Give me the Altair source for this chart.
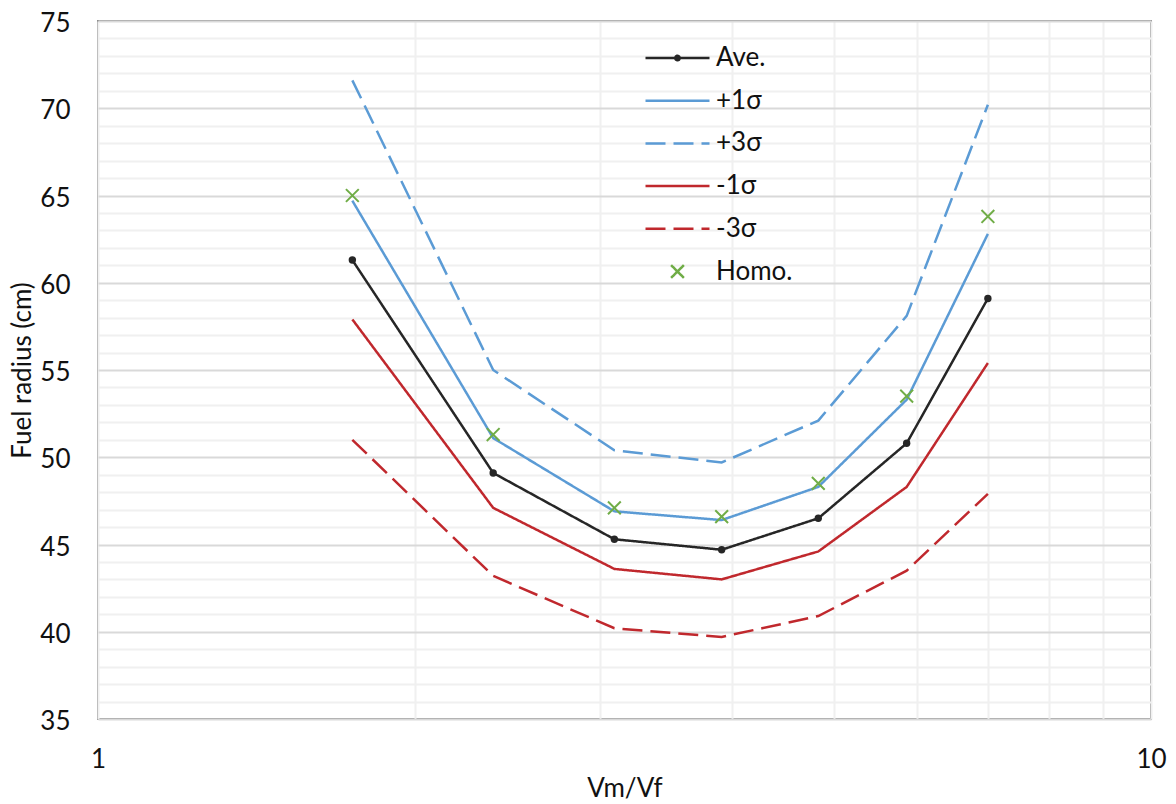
import altair as alt
import pandas as pd

# ---- data ----
vm_vf = [1.744, 2.373, 3.093, 3.911, 4.831, 5.861, 7.0]
ave = [61.3, 49.1, 45.3, 44.7, 46.5, 50.8, 59.1]
plus1 = [64.7, 51.1, 46.9, 46.4, 48.3, 53.3, 62.8]
plus3 = [71.6, 55.0, 50.4, 49.7, 52.1, 58.1, 70.2]
minus1 = [57.9, 47.1, 43.6, 43.0, 44.6, 48.3, 55.4]
minus3 = [51.0, 43.2, 40.2, 39.7, 40.9, 43.5, 47.9]
homo = [65.0, 51.3, 47.1, 46.6, 48.5, 53.5, 63.8]

series_names = ["Ave.", "+1σ", "+3σ", "-1σ", "-3σ", "Homo."]
series_colors = ["#262626", "#5B9BD5", "#5B9BD5", "#C0282D", "#C0282D", "#70AD47"]
series_dashes = [[1, 0], [1, 0], [20, 8], [1, 0], [20, 8], [1, 0]]
line_names = ["Ave.", "+1σ", "+3σ", "-1σ", "-3σ"]

# legend / marker symbol paths (unit square scaled by symbol size)
AVE_SYM = ("M-1,0H1"
           "M-0.07,0A0.07,0.07,0,1,1,0.07,0A0.07,0.07,0,1,1,-0.07,0Z"
           "M-0.03,0A0.03,0.03,0,1,1,0.03,0A0.03,0.03,0,1,1,-0.03,0Z")
HOMO_SYM = "M-0.2,-0.2L0.2,0.2M-0.2,0.2L0.2,-0.2"
series_shapes = [AVE_SYM, "stroke", "stroke", "stroke", "stroke", HOMO_SYM]

x_ticks = [1, 2, 3, 4, 5, 6, 7, 8, 9, 10]
y_ticks = list(range(35, 76))

series_values = [ave, plus1, plus3, minus1, minus3, homo]
rows = []
for name, vals in zip(series_names, series_values):
    for xv, yv in zip(vm_vf, vals):
        rows.append({"x": xv, "y": yv, "series": name})
df = pd.DataFrame(rows)

FONT = "Lato"
FS = 26

color_scale = alt.Scale(domain=series_names, range=series_colors)
dash_scale = alt.Scale(domain=series_names, range=series_dashes)
shape_scale = alt.Scale(domain=series_names, range=series_shapes)


def make_legend():
    return alt.Legend(
        title=None,
        orient="none",
        legendX=546,
        legendY=16,
        padding=0,
        symbolSize=4096,
        symbolStrokeWidth=2.5,
        symbolOpacity=1,
        labelFont=FONT,
        labelFontSize=FS,
        labelColor="#111111",
        labelOffset=5,
        clipHeight=42,
        rowPadding=0.7,
    )


x_enc = alt.X(
    "x:Q",
    scale=alt.Scale(type="log", domain=[1, 10], nice=False),
    axis=alt.Axis(
        title="Vm/Vf",
        values=x_ticks,
        labelExpr="(datum.value == 1 || datum.value == 10) ? datum.label : ''",
        format="~g",
        grid=True,
        gridColor="#f0f0f0",
        gridWidth=2,
        labelPadding=27,
        labelFlush=False,
        titlePadding=3,
        labelOverlap=False,
    ),
)
y_enc = alt.Y(
    "y:Q",
    scale=alt.Scale(domain=[35, 75], nice=False, zero=False),
    axis=alt.Axis(
        title="Fuel radius (cm)",
        values=y_ticks,
        labelExpr="datum.value % 5 == 0 ? datum.label : ''",
        grid=True,
        gridColor={
            "condition": {"test": "datum.value % 5 == 0", "value": "#d9d9d9"},
            "value": "#f0f0f0",
        },
        gridWidth=2,
        labelPadding=28,
        labelOffset=2.5,
        labelFlush=False,
        titlePadding=4,
        labelOverlap=False,
    ),
)

lines = (
    alt.Chart(df[df.series.isin(line_names)])
    .mark_line(strokeWidth=2.5)
    .encode(
        x=x_enc,
        y=y_enc,
        color=alt.Color("series:N", scale=color_scale, legend=make_legend()),
        strokeDash=alt.StrokeDash("series:N", scale=dash_scale, legend=make_legend()),
        detail="series:N",
    )
)

ave_pts = (
    alt.Chart(df[df.series == "Ave."])
    .mark_point(filled=True, shape="circle", size=55, opacity=1)
    .encode(x=x_enc, y=y_enc,
            color=alt.Color("series:N", scale=color_scale, legend=make_legend()))
)

homo_pts = (
    alt.Chart(df[df.series == "Homo."])
    .mark_point(size=4096, filled=False, strokeWidth=2, opacity=1)
    .encode(
        x=x_enc,
        y=y_enc,
        color=alt.Color("series:N", scale=color_scale, legend=make_legend()),
        shape=alt.Shape("series:N", scale=shape_scale, legend=make_legend()),
    )
)

chart = (
    alt.layer(lines, ave_pts, homo_pts)
    .properties(
        width=1053,
        height=698,
        autosize=alt.AutoSizeParams(type="none"),
        padding={"left": 98, "top": 21, "right": 25, "bottom": 85},
        background="white",
    )
    .configure_view(stroke="#8c8c8c", strokeWidth=2)
    .configure_axis(
        domain=False,
        ticks=False,
        labelFont=FONT,
        labelFontSize=FS,
        labelColor="#111111",
        titleFont=FONT,
        titleFontSize=FS,
        titleFontWeight="normal",
        titleColor="#111111",
    )
)

chart.save("out.html", embed_options={"renderer": "svg", "actions": False})
